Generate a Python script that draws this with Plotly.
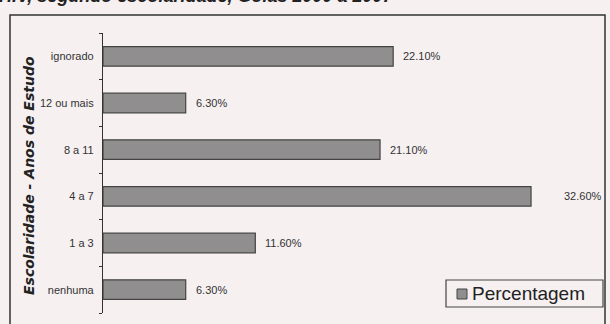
import plotly.graph_objects as go

# Escolaridade (anos de estudo) e percentuais
categorias = ["nenhuma", "1 a 3", "4 a 7", "8 a 11", "12 ou mais", "ignorado"]
percentuais = [6.3, 11.6, 32.6, 21.1, 6.3, 22.1]
rotulos = ["6.30%", "11.60%", "32.60%", "21.10%", "6.30%", "22.10%"]

# afastamento (px) de cada rótulo em relação ao fim da barra
afastamento = [8, 8, 31, 8, 8, 8]

W, H = 610, 324
L, R, T, B = 103, 7, 33, 11
PW, PH = W - L - R, H - T - B


def px(x):
    return (x - L) / PW


def py(y):
    return (H - B - y) / PH


bg = "#f6f0f1"
fonte = "Liberation Sans, Arial"
cor_barra = "#908e8f"
fig = go.Figure()
fig.add_trace(go.Bar(
    y=categorias, x=percentuais, orientation="h",
    name="Percentagem",
    marker=dict(color=cor_barra, line=dict(color="#444444", width=1.2)),
    width=0.42,
    showlegend=False,
))

for cat, val, rot, dx in zip(categorias, percentuais, rotulos, afastamento):
    fig.add_annotation(
        x=val, y=cat, text=rot, showarrow=False,
        xanchor="left", xshift=dx,
        font=dict(family=fonte, size=11, color="#333333"),
    )

fig.update_layout(
    width=W, height=H,
    margin=dict(l=L, r=R, t=T, b=B),
    paper_bgcolor=bg, plot_bgcolor=bg,
    showlegend=False,
    xaxis=dict(range=[0, PW / 13.13], visible=False),
    yaxis=dict(
        categoryorder="array", categoryarray=categorias,
        showline=True, linecolor="#333333", linewidth=1.2,
        ticks="outside", ticklen=3, tickcolor="#333333",
        tickson="boundaries", showgrid=False, zeroline=False,
        tickfont=dict(family=fonte, size=11, color="#333333"),
        ticklabelstandoff=6,
    ),
    font=dict(family=fonte),
)

# título do eixo vertical
fig.add_annotation(
    text="<b><i>Escolaridade - Anos de Estudo</i></b>",
    xref="paper", yref="paper", x=px(19), y=py(176),
    textangle=-90, showarrow=False,
    font=dict(family="DejaVu Sans", size=14, color="#222222"),
)

# título da figura (parcialmente visível no topo)
fig.add_annotation(
    text="<b><i>HIV, segundo escolaridade, Goiás 2000 a 2007</i></b>",
    xref="paper", yref="paper", x=px(-3), y=py(8),
    xanchor="left", yanchor="bottom", showarrow=False,
    font=dict(family=fonte, size=18, color="#222222"),
)

# moldura do gráfico
fig.add_shape(
    type="rect", xref="paper", yref="paper",
    x0=px(10), x1=px(605), y0=py(340), y1=py(15),
    line=dict(color="#333333", width=1.5), fillcolor="rgba(0,0,0,0)",
    layer="below",
)

# legenda: caixa, amostra da cor da série e texto
fig.add_shape(
    type="rect", xref="paper", yref="paper",
    x0=px(446), x1=px(603), y0=py(307), y1=py(280),
    line=dict(color="#444444", width=1.2), fillcolor="rgba(0,0,0,0)",
)
fig.add_shape(
    type="rect", xref="paper", yref="paper",
    x0=px(457), x1=px(467), y0=py(299), y1=py(289),
    line=dict(color="#444444", width=1), fillcolor=cor_barra,
)
fig.add_annotation(
    text="Percentagem",
    xref="paper", yref="paper", x=px(470), y=py(293.5),
    xanchor="left", yanchor="middle", showarrow=False,
    font=dict(family=fonte, size=19, color="#222222"),
)

fig.write_html("out.html")
